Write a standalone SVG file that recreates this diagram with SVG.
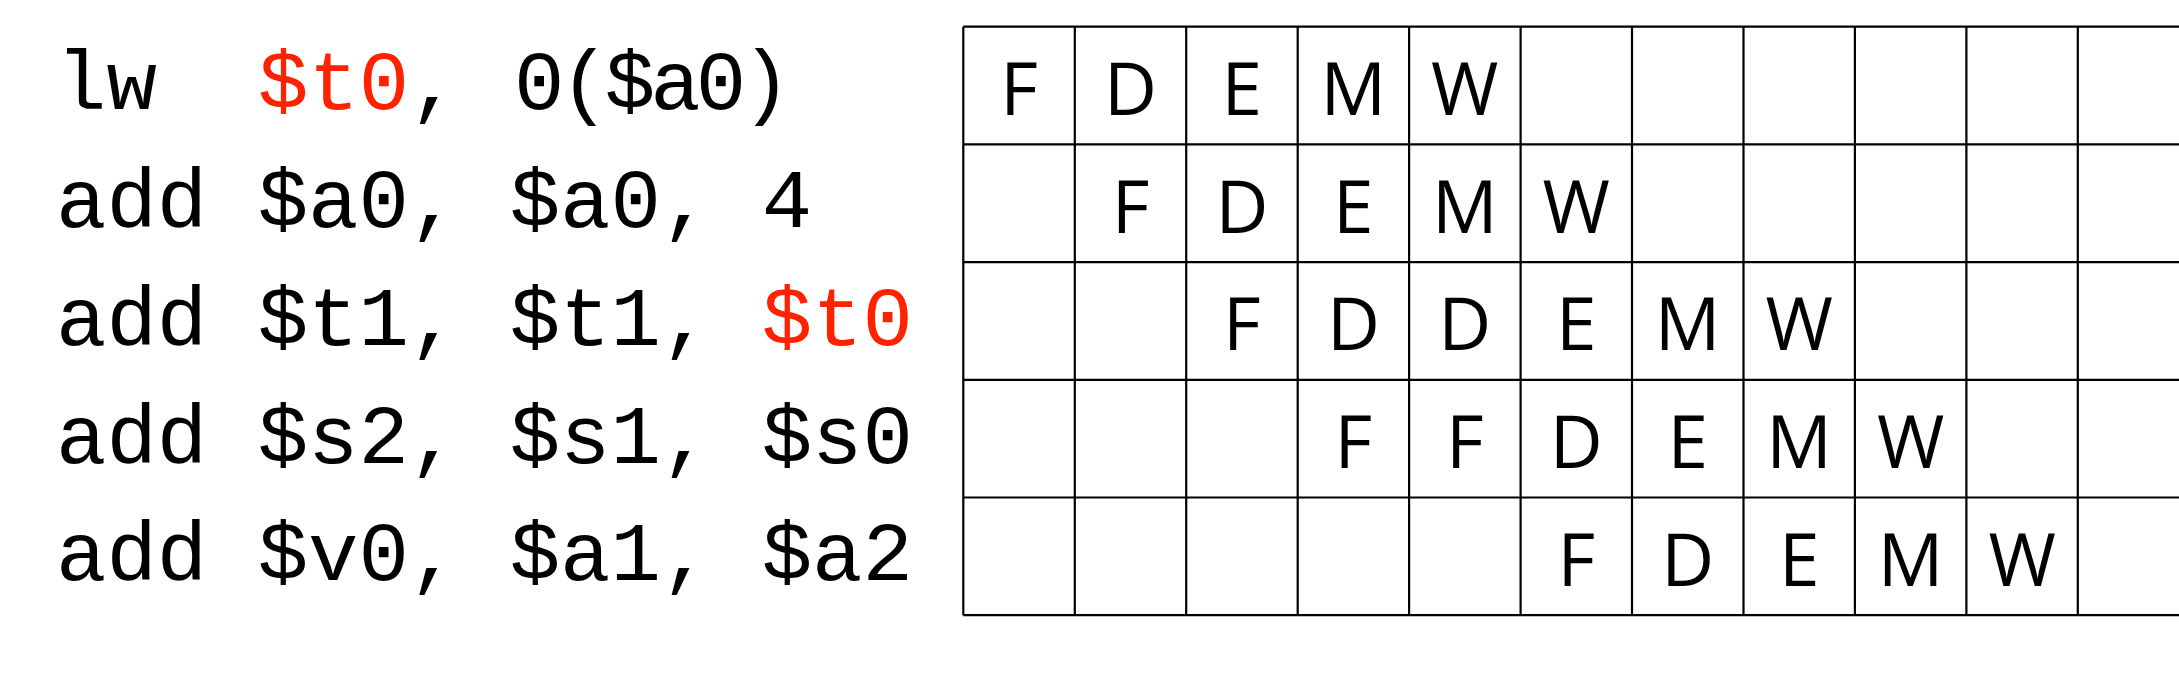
<svg xmlns="http://www.w3.org/2000/svg" width="2179" height="675" viewBox="0 0 2179 675">
<style>
.code{font-family:"Liberation Mono","Courier New",monospace;font-size:84px;fill:#000;}
.red{fill:#ff2200;}
.cell{font-family:"Open Sans","Liberation Sans",sans-serif;font-size:73px;fill:#000;text-anchor:middle;}
.grid{stroke:#000;stroke-width:2.2;fill:none;}
</style>
<rect width="2179" height="675" fill="#fff"/>
<g id="code">
<g id="i1">
<text class="code" x="56" y="109">lw</text>
<text class="code" x="258" y="109"><tspan class="red">$t0</tspan>,</text>
<text class="code" x="514" y="109" letter-spacing="-5">0($a0)</text>
</g>
<text id="i2" class="code" x="56" y="227" xml:space="preserve">add $a0, $a0, 4</text>
<text id="i3" class="code" x="56" y="345" xml:space="preserve">add $t1, $t1, <tspan class="red">$t0</tspan></text>
<text id="i4" class="code" x="56" y="463" xml:space="preserve">add $s2, $s1, $s0</text>
<text id="i5" class="code" x="56" y="580" xml:space="preserve">add $v0, $a1, $a2</text>
</g>
<g id="grid">
<path class="grid" d="M963.3 26.7H2190M963.3 144.4H2190M963.3 262.1H2190M963.3 379.8H2190M963.3 497.5H2190M963.3 615.2H2190
M963.3 26.7V615.2M1074.8 26.7V615.2M1186.2 26.7V615.2M1297.7 26.7V615.2M1409.1 26.7V615.2M1520.6 26.7V615.2M1632 26.7V615.2M1743.5 26.7V615.2M1854.9 26.7V615.2M1966.4 26.7V615.2M2077.8 26.7V615.2"/>
</g>
<g id="row1">
<text class="cell" x="1019" y="115">F</text><text class="cell" x="1130.5" y="115">D</text><text class="cell" x="1241.9" y="115">E</text><text class="cell" x="1353.4" y="115">M</text><text class="cell" x="1464.8" y="115">W</text>
</g>
<g id="row2">
<text class="cell" x="1130.5" y="232.7">F</text><text class="cell" x="1241.9" y="232.7">D</text><text class="cell" x="1353.4" y="232.7">E</text><text class="cell" x="1464.8" y="232.7">M</text><text class="cell" x="1576.3" y="232.7">W</text>
</g>
<g id="row3">
<text class="cell" x="1241.9" y="350.4">F</text><text class="cell" x="1353.4" y="350.4">D</text><text class="cell" x="1464.8" y="350.4">D</text><text class="cell" x="1576.3" y="350.4">E</text><text class="cell" x="1687.7" y="350.4">M</text><text class="cell" x="1799.2" y="350.4">W</text>
</g>
<g id="row4">
<text class="cell" x="1353.4" y="468.1">F</text><text class="cell" x="1464.8" y="468.1">F</text><text class="cell" x="1576.3" y="468.1">D</text><text class="cell" x="1687.7" y="468.1">E</text><text class="cell" x="1799.2" y="468.1">M</text><text class="cell" x="1910.6" y="468.1">W</text>
</g>
<g id="row5">
<text class="cell" x="1576.3" y="585.8">F</text><text class="cell" x="1687.7" y="585.8">D</text><text class="cell" x="1799.2" y="585.8">E</text><text class="cell" x="1910.6" y="585.8">M</text><text class="cell" x="2022.1" y="585.8">W</text>
</g>
<g id="connectors"/>
</svg>
